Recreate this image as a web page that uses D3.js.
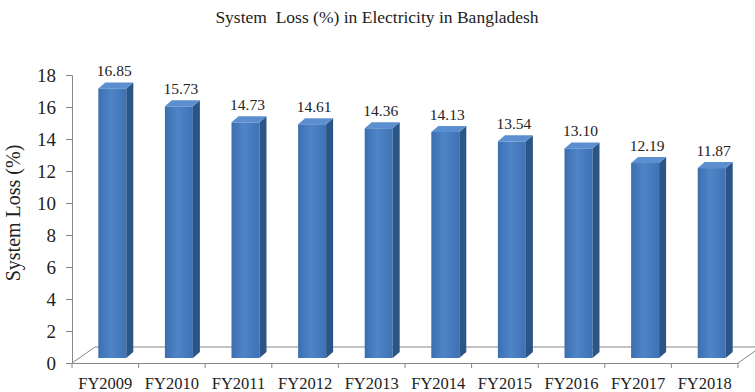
<!DOCTYPE html>
<html>
<head>
<meta charset="utf-8">
<script src="https://cdn.jsdelivr.net/npm/d3@7"></script>
<style>
  body { margin: 0; background: #fff; }
  text { font-family: "Liberation Serif", "DejaVu Serif", serif; fill: #222; }
</style>
</head>
<body>
<svg id="chart" width="755" height="392"></svg>
<script>
// chart data
var years = ['FY2009', 'FY2010', 'FY2011', 'FY2012', 'FY2013', 'FY2014', 'FY2015', 'FY2016', 'FY2017', 'FY2018'];
var lossValues = [16.85, 15.73, 14.73, 14.61, 14.36, 14.13, 13.54, 13.10, 12.19, 11.87];
var lossLabels = ['16.85', '15.73', '14.73', '14.61', '14.36', '14.13', '13.54', '13.10', '12.19', '11.87'];
var yTicks = [0, 2, 4, 6, 8, 10, 12, 14, 16, 18];

var svg = d3.select('#chart');
var plotLeft = 72, plotRight = 738, plotTop = 75, plotBottom = 363;
var depthX = 23, depthY = -16;   // floor depth
var barShiftX = 7, barShiftY = -5; // bars sit a bit back on the floor
var sideX = 7, sideY = -6;       // bar depth

var x = d3.scaleBand().domain(years).range([plotLeft, plotRight]).paddingInner(0).paddingOuter(0);
var y = d3.scaleLinear().domain([0, 18]).range([plotBottom, plotTop]);

// title
svg.append('text')
	.attr('x', 377).attr('y', 23)
	.attr('text-anchor', 'middle')
	.style('font-size', '17.5px')
	.style('white-space', 'pre')
	.text('System  Loss (%) in Electricity in Bangladesh');

// y axis label
svg.append('text')
	.attr('transform', 'translate(20,213) rotate(-90)')
	.attr('text-anchor', 'middle')
	.style('font-size', '20px')
	.text('System Loss (%)');

// floor
svg.append('path')
	.attr('d', 'M' + plotLeft + ',' + plotBottom + 'L' + (plotLeft + depthX) + ',' + (plotBottom + depthY) +
		'L' + (plotRight + depthX) + ',' + (plotBottom + depthY) + 'L' + plotRight + ',' + plotBottom)
	.attr('fill', 'none')
	.attr('stroke', '#888')
	.attr('stroke-width', 1);

// y axis
var yAxis = svg.append('g')
	.attr('transform', 'translate(' + plotLeft + ',0)')
	.call(d3.axisLeft(y).tickValues(yTicks).tickSize(6).tickPadding(10).tickFormat(d3.format('d')));
yAxis.select('.domain').attr('stroke', '#888');
yAxis.selectAll('.tick line').attr('stroke', '#888');
yAxis.selectAll('text').style('font-size', '19px').attr('fill', '#222')
	.style('font-family', '"Liberation Serif", serif');

// x axis
var xAxis = svg.append('g')
	.attr('transform', 'translate(0,' + plotBottom + ')')
	.call(d3.axisBottom(x).tickSize(0).tickPadding(14));
xAxis.select('.domain').attr('stroke', '#888');
xAxis.selectAll('text').style('font-size', '16.5px').attr('fill', '#222')
	.style('font-family', '"Liberation Serif", serif');
// category boundary ticks
xAxis.selectAll('.bnd')
	.data(years.concat(['end']))
	.enter().append('line')
	.attr('class', 'bnd')
	.attr('x1', function(d, i) { return plotLeft + i * x.bandwidth(); })
	.attr('x2', function(d, i) { return plotLeft + i * x.bandwidth(); })
	.attr('y1', 0).attr('y2', 5)
	.attr('stroke', '#888');

// bars
var defs = svg.append('defs');
var grad = defs.append('linearGradient').attr('id', 'front').attr('x1', 0).attr('x2', 1).attr('y1', 0).attr('y2', 0);
grad.append('stop').attr('offset', '0%').attr('stop-color', '#3c6fb0');
grad.append('stop').attr('offset', '45%').attr('stop-color', '#4f84c8');
grad.append('stop').attr('offset', '100%').attr('stop-color', '#3e72b4');

var barW = 28;
var base = plotBottom + barShiftY;
var yb = d3.scaleLinear().domain([0, 18]).range([base, base - (plotBottom - plotTop)]);
function bx(i) { return x(years[i]) + x.bandwidth() / 2 - barW / 2 + barShiftX; }

var bars = svg.selectAll('g.bar')
	.data(lossValues)
	.enter().append('g')
	.attr('class', 'bar');

bars.append('rect')
	.attr('x', function(d, i) { return bx(i); })
	.attr('y', function(d) { return yb(d); })
	.attr('width', barW)
	.attr('height', function(d) { return base - yb(d); })
	.attr('fill', 'url(#front)');

bars.append('path')
	.attr('d', function(d, i) {
		var x0 = bx(i) + barW, t = yb(d);
		return 'M' + x0 + ',' + t + 'L' + (x0 + sideX) + ',' + (t + sideY) + 'L' + (x0 + sideX) + ',' + (base + sideY) + 'L' + x0 + ',' + base + 'Z';
	})
	.attr('fill', '#2b5585');

bars.append('path')
	.attr('d', function(d, i) {
		var x0 = bx(i), t = yb(d);
		return 'M' + x0 + ',' + t + 'L' + (x0 + sideX) + ',' + (t + sideY) + 'L' + (x0 + barW + sideX) + ',' + (t + sideY) + 'L' + (x0 + barW) + ',' + t + 'Z';
	})
	.attr('fill', '#5b8fd0');

// value labels
bars.append('text')
	.attr('x', function(d, i) { return bx(i) + barW / 2 + 2; })
	.attr('y', function(d) { return yb(d) + sideY - 6; })
	.attr('text-anchor', 'middle')
	.style('font-size', '15.5px')
	.text(function(d, i) { return lossLabels[i]; });
</script>
</body>
</html>
